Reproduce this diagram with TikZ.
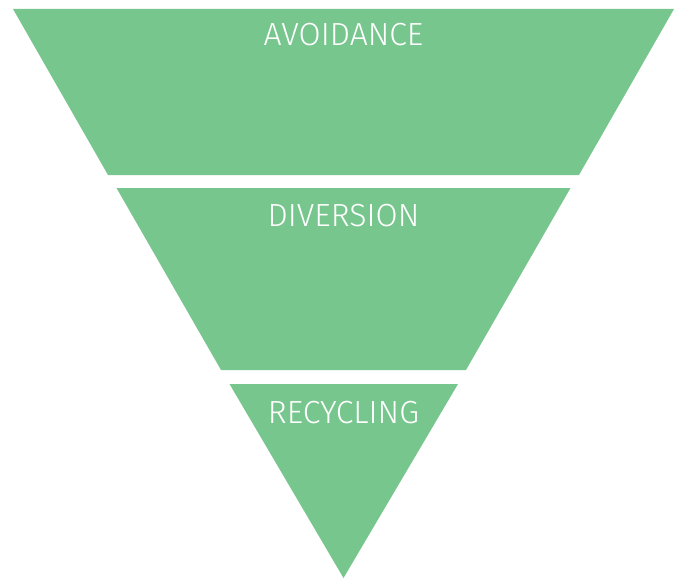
\documentclass[tikz,border=0pt]{standalone}
\usepackage{fontspec}
\setmainfont{Fira Sans}[UprightFont=* Light]
\usepackage{tikz}
\usetikzlibrary{positioning,calc}
\definecolor{wastegreen}{HTML}{77C68E}

\begin{document}
\begin{tikzpicture}[
    x=1pt, y=-1pt,
    tier/.style={fill=wastegreen, draw=none},
    label/.style={font=\fontsize{32}{32}\selectfont, color=white, anchor=base},
]
\useasboundingbox (0,0) rectangle (680,578);

% avoidance
\fill[tier] (13,9) -- (674,9) -- (579,175) -- (108,175) -- cycle;
\node[label] (avoid) at (343.5,46) {AVOIDANCE};

% diversion
\fill[tier] (116.5,188) -- (570.5,188) -- (466,370) -- (221,370) -- cycle;
\node[label] (divert) at (343.5,226) {DIVERSION};

% recycling
\fill[tier] (229.5,384) -- (458,384) -- (343.5,578) -- cycle;
\node[label] (recycle) at (343.5,423) {RECYCLING};

\end{tikzpicture}
\end{document}
